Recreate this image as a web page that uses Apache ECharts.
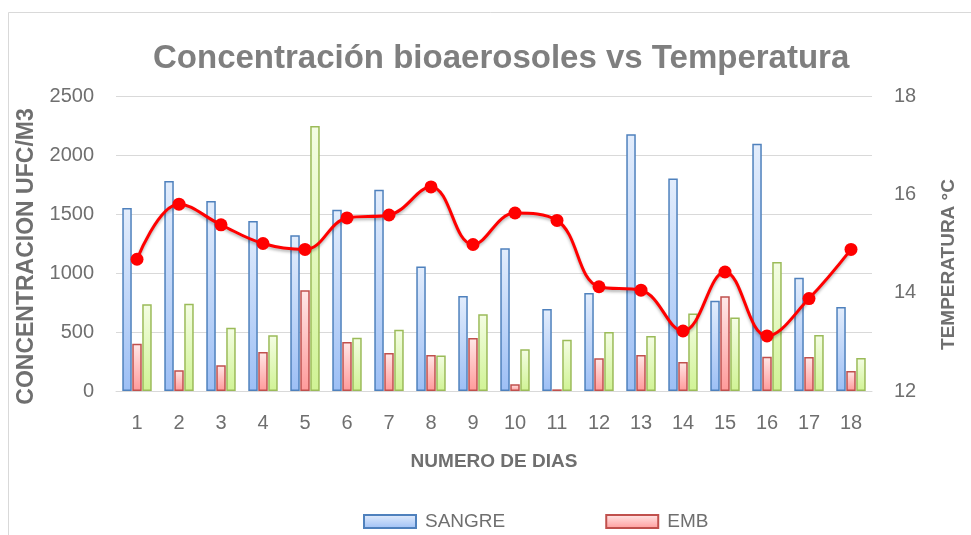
<!DOCTYPE html>
<html>
<head>
<meta charset="utf-8">
<title>Concentración bioaerosoles vs Temperatura</title>
<script src="https://cdn.jsdelivr.net/npm/echarts@6/dist/echarts.min.js"></script>
<style>
  html, body { margin: 0; padding: 0; background: #fff; }
  #chart { width: 971px; height: 535px; }
</style>
</head>
<body>
<div id="chart"></div>
<script>
// datos
var dias = ['1','2','3','4','5','6','7','8','9','10','11','12','13','14','15','16','17','18'];
var sangre = [1550, 1780, 1610, 1440, 1320, 1535, 1705, 1055, 805, 1210, 695, 830, 2175, 1800, 765, 2095, 960, 712];
var emb = [400, 175, 218, 330, 853, 415, 322, 305, 449, 57, 14, 277, 305, 246, 802, 291, 288, 169];
var sabouraud = [735, 740, 537, 472, 2246, 452, 520, 300, 650, 353, 435, 500, 466, 656, 622, 1093, 475, 280];
var temperatura = [14.68, 15.8, 15.38, 15.0, 14.88, 15.52, 15.58, 16.15, 14.98, 15.62, 15.47, 14.12, 14.05, 13.22, 14.42, 13.12, 13.88, 14.88];
var ticksIzq = [0, 500, 1000, 1500, 2000, 2500];
var ticksDer = [12, 14, 16, 18];

var gris = '#6f6f6f';
var fuente = 'Liberation Sans';

function degradado(arriba, abajo) {
    return new echarts.graphic.LinearGradient(0, 0, 0, 1, [
        { offset: 0, color: arriba },
        { offset: 1, color: abajo }
    ]);
}

var myChart = echarts.init(document.getElementById('chart'));

var option = {
    backgroundColor: '#fff',
    textStyle: { fontFamily: fuente },
    graphic: [{
        type: 'rect',
        shape: { x: 8.5, y: 12.5, width: 975, height: 540 },
        style: { fill: 'none', stroke: '#d9d9d9', lineWidth: 1 },
        silent: true
    }],
    title: {
        text: 'Concentración bioaerosoles vs Temperatura',
        left: 148,
        top: 37,
        textStyle: { color: '#7f7f7f', fontSize: 33, fontWeight: 'bold', fontFamily: fuente }
    },
    legend: {
        data: ['SANGRE', 'EMB'],
        left: 358,
        top: 507,
        icon: 'rect',
        itemWidth: 52,
        itemHeight: 13,
        itemGap: 100,
        textStyle: { color: gris, fontSize: 19, fontFamily: fuente, padding: [0, 0, 0, 4] }
    },
    grid: { left: 116, right: 99, top: 96, bottom: 144 },
    xAxis: {
        type: 'category',
        data: dias,
        name: 'NUMERO DE DIAS',
        nameLocation: 'middle',
        nameGap: 61,
        nameTextStyle: { color: gris, fontSize: 19, fontWeight: 'bold' },
        axisLine: { lineStyle: { color: '#d9d9d9', width: 1 } },
        axisTick: { show: false },
        axisLabel: { color: gris, fontSize: 20, margin: 22 }
    },
    yAxis: [{
        type: 'value',
        min: ticksIzq[0],
        max: ticksIzq[ticksIzq.length - 1],
        interval: 500,
        name: 'CONCENTRACION UFC/M3',
        nameLocation: 'middle',
        nameRotate: 90,
        nameGap: 73,
        nameTextStyle: { color: gris, fontSize: 23, fontWeight: 'bold', padding: [0, 26, 0, 0] },
        axisLine: { show: false },
        axisTick: { show: false },
        axisLabel: { color: gris, fontSize: 20, margin: 22, formatter: function (v) { return String(v); } },
        splitLine: { lineStyle: { color: '#d9d9d9', width: 1 } }
    }, {
        type: 'value',
        min: ticksDer[0],
        max: ticksDer[ticksDer.length - 1],
        interval: 2,
        position: 'right',
        name: 'TEMPERATURA °C',
        nameLocation: 'middle',
        nameRotate: 90,
        nameGap: 67,
        nameTextStyle: { color: gris, fontSize: 19, fontWeight: 'bold', padding: [0, 42, 0, 0] },
        axisLine: { show: false },
        axisTick: { show: false },
        axisLabel: { color: gris, fontSize: 20, margin: 22 },
        splitLine: { show: false }
    }],
    series: [{
        name: 'SANGRE',
        type: 'bar',
        data: sangre,
        barWidth: 9.5,
        barGap: '5%',
        itemStyle: {
            color: degradado('#e3edfc', '#9dbff5'),
            borderColor: '#4f81bd',
            borderWidth: 1.5
        }
    }, {
        name: 'EMB',
        type: 'bar',
        data: emb,
        barWidth: 9.5,
        barGap: '5%',
        itemStyle: {
            color: degradado('#ffe8e8', '#ff9a9a'),
            borderColor: '#c0504d',
            borderWidth: 1.5
        }
    }, {
        name: 'SABOURAUD',
        type: 'bar',
        data: sabouraud,
        barWidth: 9.5,
        barGap: '5%',
        itemStyle: {
            color: degradado('#f4fde4', '#d0f394'),
            borderColor: '#9bbb59',
            borderWidth: 1.5
        }
    }, {
        name: 'TEMPERATURA',
        type: 'line',
        yAxisIndex: 1,
        data: temperatura,
        smooth: 0.4,
        symbol: 'circle',
        symbolSize: 13,
        lineStyle: {
            color: '#ff0000', width: 3,
            shadowColor: 'rgba(0,0,0,0.3)', shadowBlur: 3, shadowOffsetY: 2
        },
        itemStyle: { color: '#ff0000' },
        z: 5
    }]
};

myChart.setOption(option);
</script>
</body>
</html>
